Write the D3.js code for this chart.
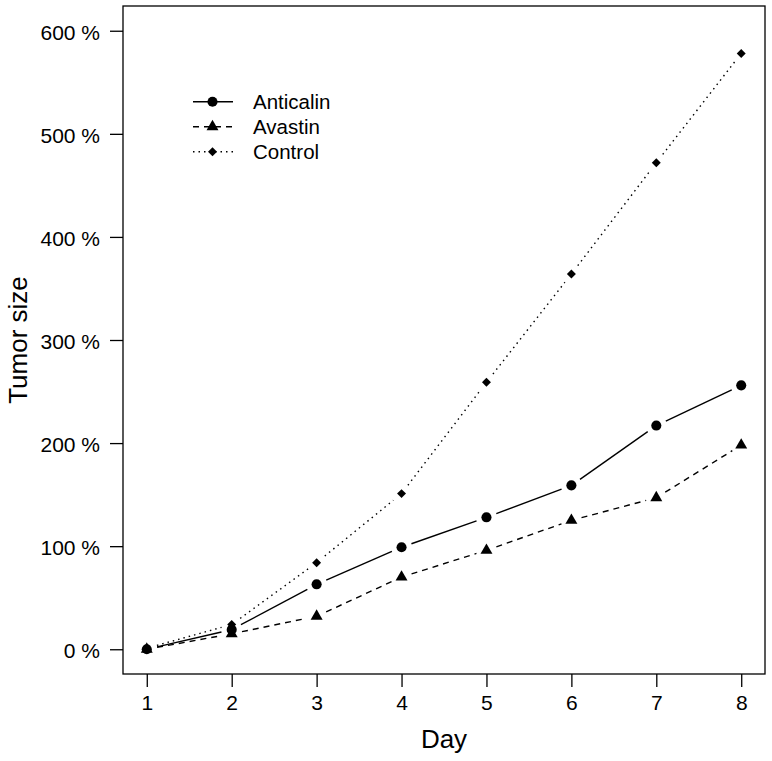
<!DOCTYPE html>
<html>
<head>
<meta charset="utf-8">
<script src="https://cdn.jsdelivr.net/npm/d3@7"></script>
<style>
	body { margin: 0; background: #fff; }
	text { font-family: "Liberation Sans", Arial, sans-serif; fill: #000; }
</style>
</head>
<body>
<div id="chart"></div>
<script>
// data (tumor size in %, per day)
var days = [1, 2, 3, 4, 5, 6, 7, 8];
var anticalin = [0, 19, 63, 99, 128, 159, 217, 256];
var avastin = [0, 15, 32, 70, 96, 125, 147, 198];
var control = [1, 24, 84, 151, 259, 364, 472, 578];
var yTicks = [0, 100, 200, 300, 400, 500, 600];

var series = [
	{name: "Anticalin", values: anticalin, dash: null, shape: "circle"},
	{name: "Avastin", values: avastin, dash: "6,5", shape: "triangle"},
	{name: "Control", values: control, dash: "1.5,4", shape: "diamond"}
];

// canvas + plot box
var width = 772, height = 761;
var box = {left: 123, right: 765, top: 6, bottom: 674};
var gap = 10.5; // R type="b" leaves a gap round each point

var svg = d3.select("#chart").append("svg")
	.attr("width", width)
	.attr("height", height);

// scales (R-style 4% extension of xlim c(1,8), ylim c(0,600))
var xScale = d3.scaleLinear()
	.domain([0.72, 8.28])
	.range([box.left, box.right]);

var yScale = d3.scaleLinear()
	.domain([-24, 624])
	.range([box.bottom, box.top]);

// axes
var xAxis = d3.axisBottom(xScale)
	.tickValues(days)
	.tickSize(13)
	.tickPadding(8)
	.tickFormat(d3.format("d"));

var yAxis = d3.axisLeft(yScale)
	.tickValues(yTicks)
	.tickSize(13)
	.tickPadding(10)
	.tickFormat(function(d) { return d + " %"; });

var gx = svg.append("g")
	.attr("transform", "translate(0," + box.bottom + ")")
	.call(xAxis);
gx.select(".domain").remove();
gx.selectAll("line").attr("stroke", "#000").attr("stroke-width", 1.3);
gx.selectAll("text")
	.attr("font-size", 21)
	.attr("font-family", "Liberation Sans, Arial, sans-serif")
	.attr("dy", "0.71em");

var gy = svg.append("g")
	.attr("transform", "translate(" + box.left + ",0)")
	.call(yAxis);
gy.select(".domain").remove();
gy.selectAll("line").attr("stroke", "#000").attr("stroke-width", 1.3);
gy.selectAll("text")
	.attr("font-size", 21)
	.attr("font-family", "Liberation Sans, Arial, sans-serif")
	.attr("dy", "0.4em");

// box round the plot
svg.append("rect")
	.attr("x", box.left)
	.attr("y", box.top)
	.attr("width", box.right - box.left)
	.attr("height", box.bottom - box.top)
	.attr("fill", "none")
	.attr("stroke", "#000")
	.attr("stroke-width", 1.3);

// axis titles
svg.append("text")
	.attr("x", (box.left + box.right) / 2)
	.attr("y", 748)
	.attr("text-anchor", "middle")
	.attr("font-size", 26)
	.text("Day");

svg.append("text")
	.attr("transform", "translate(27," + ((box.top + box.bottom) / 2) + ") rotate(-90)")
	.attr("text-anchor", "middle")
	.attr("font-size", 26)
	.text("Tumor size");

// marker shapes
function markerPath(shape) {
	if (shape == "circle") return d3.symbol().type(d3.symbolCircle).size(80)();
	if (shape == "triangle") return d3.symbol().type(d3.symbolTriangle).size(62)();
	return d3.symbol().type(d3.symbolSquare).size(40)();
}
function markerRotate(shape) {
	return shape == "diamond" ? " rotate(45)" : "";
}

var line = d3.line();

series.forEach(function(s) {
	var g = svg.append("g").attr("class", "series");

	// segments between points, shortened at both ends
	var segs = [];
	for (var i = 0; i < days.length - 1; i++) {
		var x0 = xScale(days[i]), y0 = yScale(s.values[i]);
		var x1 = xScale(days[i + 1]), y1 = yScale(s.values[i + 1]);
		var len = Math.sqrt((x1 - x0) * (x1 - x0) + (y1 - y0) * (y1 - y0));
		if (len <= 2 * gap) continue;
		var ux = (x1 - x0) / len, uy = (y1 - y0) / len;
		segs.push([[x0 + ux * gap, y0 + uy * gap], [x1 - ux * gap, y1 - uy * gap]]);
	}

	g.selectAll("path.seg")
		.data(segs)
		.enter().append("path")
		.attr("class", "seg")
		.attr("d", line)
		.attr("fill", "none")
		.attr("stroke", "#000")
		.attr("stroke-width", 1.4)
		.attr("stroke-dasharray", s.dash);

	g.selectAll("path.pt")
		.data(days)
		.enter().append("path")
		.attr("class", "pt")
		.attr("d", markerPath(s.shape))
		.attr("transform", function(d, i) {
			return "translate(" + xScale(d) + "," + yScale(s.values[i]) + ")" + markerRotate(s.shape);
		})
		.attr("fill", "#000");
});

// legend
var legend = svg.selectAll(".legend")
	.data(series)
	.enter().append("g")
	.attr("class", "legend")
	.attr("transform", function(d, i) { return "translate(0," + (101.7 + 25 * i) + ")"; });

legend.append("line")
	.attr("x1", 193)
	.attr("x2", 233)
	.attr("stroke", "#000")
	.attr("stroke-width", 1.4)
	.attr("stroke-dasharray", function(d) { return d.dash; });

legend.append("path")
	.attr("d", function(d) { return markerPath(d.shape); })
	.attr("transform", function(d) { return "translate(212.5,0)" + markerRotate(d.shape); })
	.attr("fill", "#000");

legend.append("text")
	.attr("x", 253)
	.attr("dy", "0.36em")
	.attr("font-size", 20.5)
	.text(function(d) { return d.name; });
</script>
</body>
</html>
